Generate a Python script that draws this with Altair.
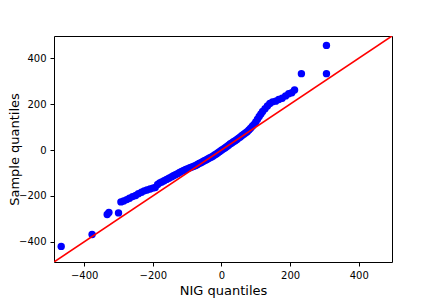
import altair as alt
import pandas as pd

nig_q = [-467, -377, -333, -328, -300, -293, -285, -276, -268, -259, -250, -242, -233, -225,
         -217, -208, -200, -193, -186, -180, -174, -167, -160, -153, -146, -140, -134, -128,
         -122, -116, -110, -104, -98, -92, -86, -80, -75, -70, -65, -60, -55, -50, -45, -40,
         -35, -30, -25, -20, -15, -10, -5, 0, 5, 10, 15, 20, 25, 30, 35, 40, 45, 50, 55, 60,
         65, 70, 75, 80, 85, 90, 95, 100, 105, 110, 115, 120, 127, 134, 141, 149, 158, 167,
         177, 187, 196, 205, 213, 233, 306, 306]
sample_q = [-420, -368, -281, -272, -274, -226, -222, -216, -210, -203, -198, -190, -184, -178,
            -174, -170, -166, -163, -150, -143, -139, -134, -128, -123, -117, -112, -108, -103,
            -98, -93, -89, -85, -81, -77, -74, -71, -67, -63, -59, -55, -51, -47, -43, -39,
            -35, -31, -27, -22, -17, -12, -6, -1, 4, 9, 14, 20, 26, 31, 36, 41, 46, 52, 57, 63,
            69, 74, 80, 87, 95, 104, 112, 122, 134, 146, 157, 168, 180, 192, 203, 210, 213, 220,
            226, 236, 245, 250, 262, 333, 333, 456]
lims = [-488, 497]
tick_vals = [-400, -200, 0, 200, 400]

df = pd.DataFrame({"x": nig_q, "y": sample_q})
line_df = pd.DataFrame({"x": lims, "y": lims})

xscale = alt.Scale(domain=lims, nice=False, zero=False)
yscale = alt.Scale(domain=lims, nice=False, zero=False)

points = alt.Chart(df).mark_circle(size=55, color="#0000ff", opacity=1).encode(
    x=alt.X("x:Q", scale=xscale,
            axis=alt.Axis(title="NIG quantiles", values=tick_vals, format="d")),
    y=alt.Y("y:Q", scale=yscale,
            axis=alt.Axis(title="Sample quantiles", values=tick_vals, format="d",
                          titleX=-33)),
)
line = alt.Chart(line_df).mark_line(color="#ff0000", strokeWidth=1.6, clip=True).encode(
    x=alt.X("x:Q", scale=xscale),
    y=alt.Y("y:Q", scale=yscale),
)

chart = (points + line).properties(
    width=338, height=226,
    autosize=alt.AutoSizeParams(type="none"),
    padding={"left": 46, "top": 28, "right": 36, "bottom": 38},
    background="white",
).configure_view(
    stroke="black", strokeWidth=1
).configure_axis(
    grid=False, domain=False, ticks=True, tickColor="black", tickSize=4, tickWidth=1,
    labelFont="DejaVu Sans", labelFontSize=10, labelColor="black", labelPadding=4,
    titleFont="DejaVu Sans", titleFontSize=13, titleFontWeight="normal", titleColor="black",
    titlePadding=4,
)

chart.save("out.html", embed_options={"renderer": "svg", "actions": False})
